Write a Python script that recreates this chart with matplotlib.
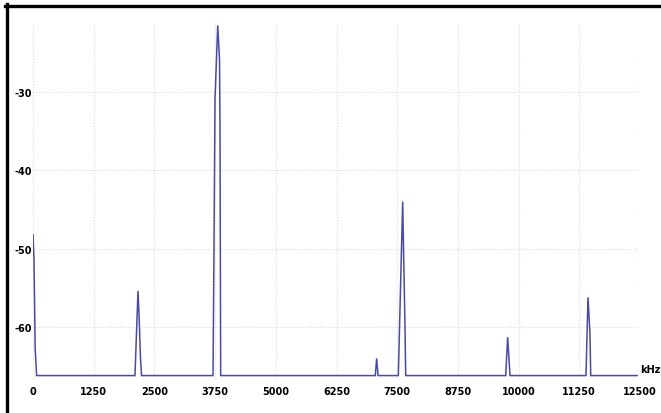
import matplotlib
matplotlib.use("Agg")
import matplotlib.pyplot as plt
from matplotlib.lines import Line2D

# Spectrum trace (kHz, dB)
freq_khz = [0, 20, 45, 75, 2100, 2162, 2183, 2214, 2235,
            3707, 3727, 3748, 3804, 3841, 3851, 3865,
            7049, 7077, 7105,
            7523, 7613, 7661, 7675,
            9734, 9775, 9823,
            11388, 11429, 11470, 11485, 12440]
level_db = [-48.2, -51.3, -62.8, -66.2, -66.2, -55.4, -58.3, -64.1, -66.2,
            -66.2, -50.0, -30.9, -21.5, -25.8, -34.7, -66.2,
            -66.2, -64.0, -66.2,
            -66.2, -44.0, -60.3, -66.2,
            -66.2, -61.3, -66.2,
            -66.2, -56.2, -60.9, -66.2, -66.2]
x_ticks = [0, 1250, 2500, 3750, 5000, 6250, 7500, 8750, 10000, 11250, 12500]
y_ticks = [-30, -40, -50, -60]
x_unit = "kHz"

W, H = 661, 414
fig = plt.figure(figsize=(W / 100, H / 100), dpi=100)
fig.patch.set_facecolor("white")

left_px, right_px, top_px, bot_px = 33, 640, 25, 380
ax = fig.add_axes([left_px / W, 1 - bot_px / H, (right_px - left_px) / W, (bot_px - top_px) / H])
ax.set_facecolor("white")

px_per_db = 235 / 30.0
ymax = -30 + (93 - top_px) / px_per_db
ymin = -60 - (bot_px - 328) / px_per_db
ax.set_xlim(0, 12500)
ax.set_ylim(ymin, ymax)

ax.plot(freq_khz, level_db, color="#4a4aa0", lw=1.1, solid_joinstyle="miter", zorder=3)

for s in ax.spines.values():
    s.set_visible(False)

ax.set_xticks(x_ticks)
ax.set_yticks(y_ticks)
ax.tick_params(length=0)
font = dict(family="DejaVu Sans", weight="bold", size=7)
ax.set_xticklabels([str(v) for v in x_ticks], **font)
ax.set_yticklabels([str(v) for v in y_ticks], **font)
ax.tick_params(axis="x", pad=5)
ax.tick_params(axis="y", pad=1)

for xv in x_ticks:
    ax.axvline(xv, color="#dcdcdc", lw=0.8, ls=(0, (1, 1.5)), zorder=1)
for yv in y_ticks:
    ax.axhline(yv, color="#dcdcdc", lw=0.8, ls=(0, (1, 1.5)), zorder=1, xmax=0.995)

fig.text(640 / W, 1 - 370 / H, x_unit, ha="left", va="center", **font)

# figure frame (top and left edges)
fig.add_artist(Line2D([5 / W, 1], [1 - 6.5 / H, 1 - 6.5 / H], color="black", lw=2.4, transform=fig.transFigure))
fig.add_artist(Line2D([6.5 / W, 6.5 / W], [0, 1 - 5 / H], color="black", lw=2.4, transform=fig.transFigure))

fig.savefig("out.png", dpi=100, facecolor="white")
